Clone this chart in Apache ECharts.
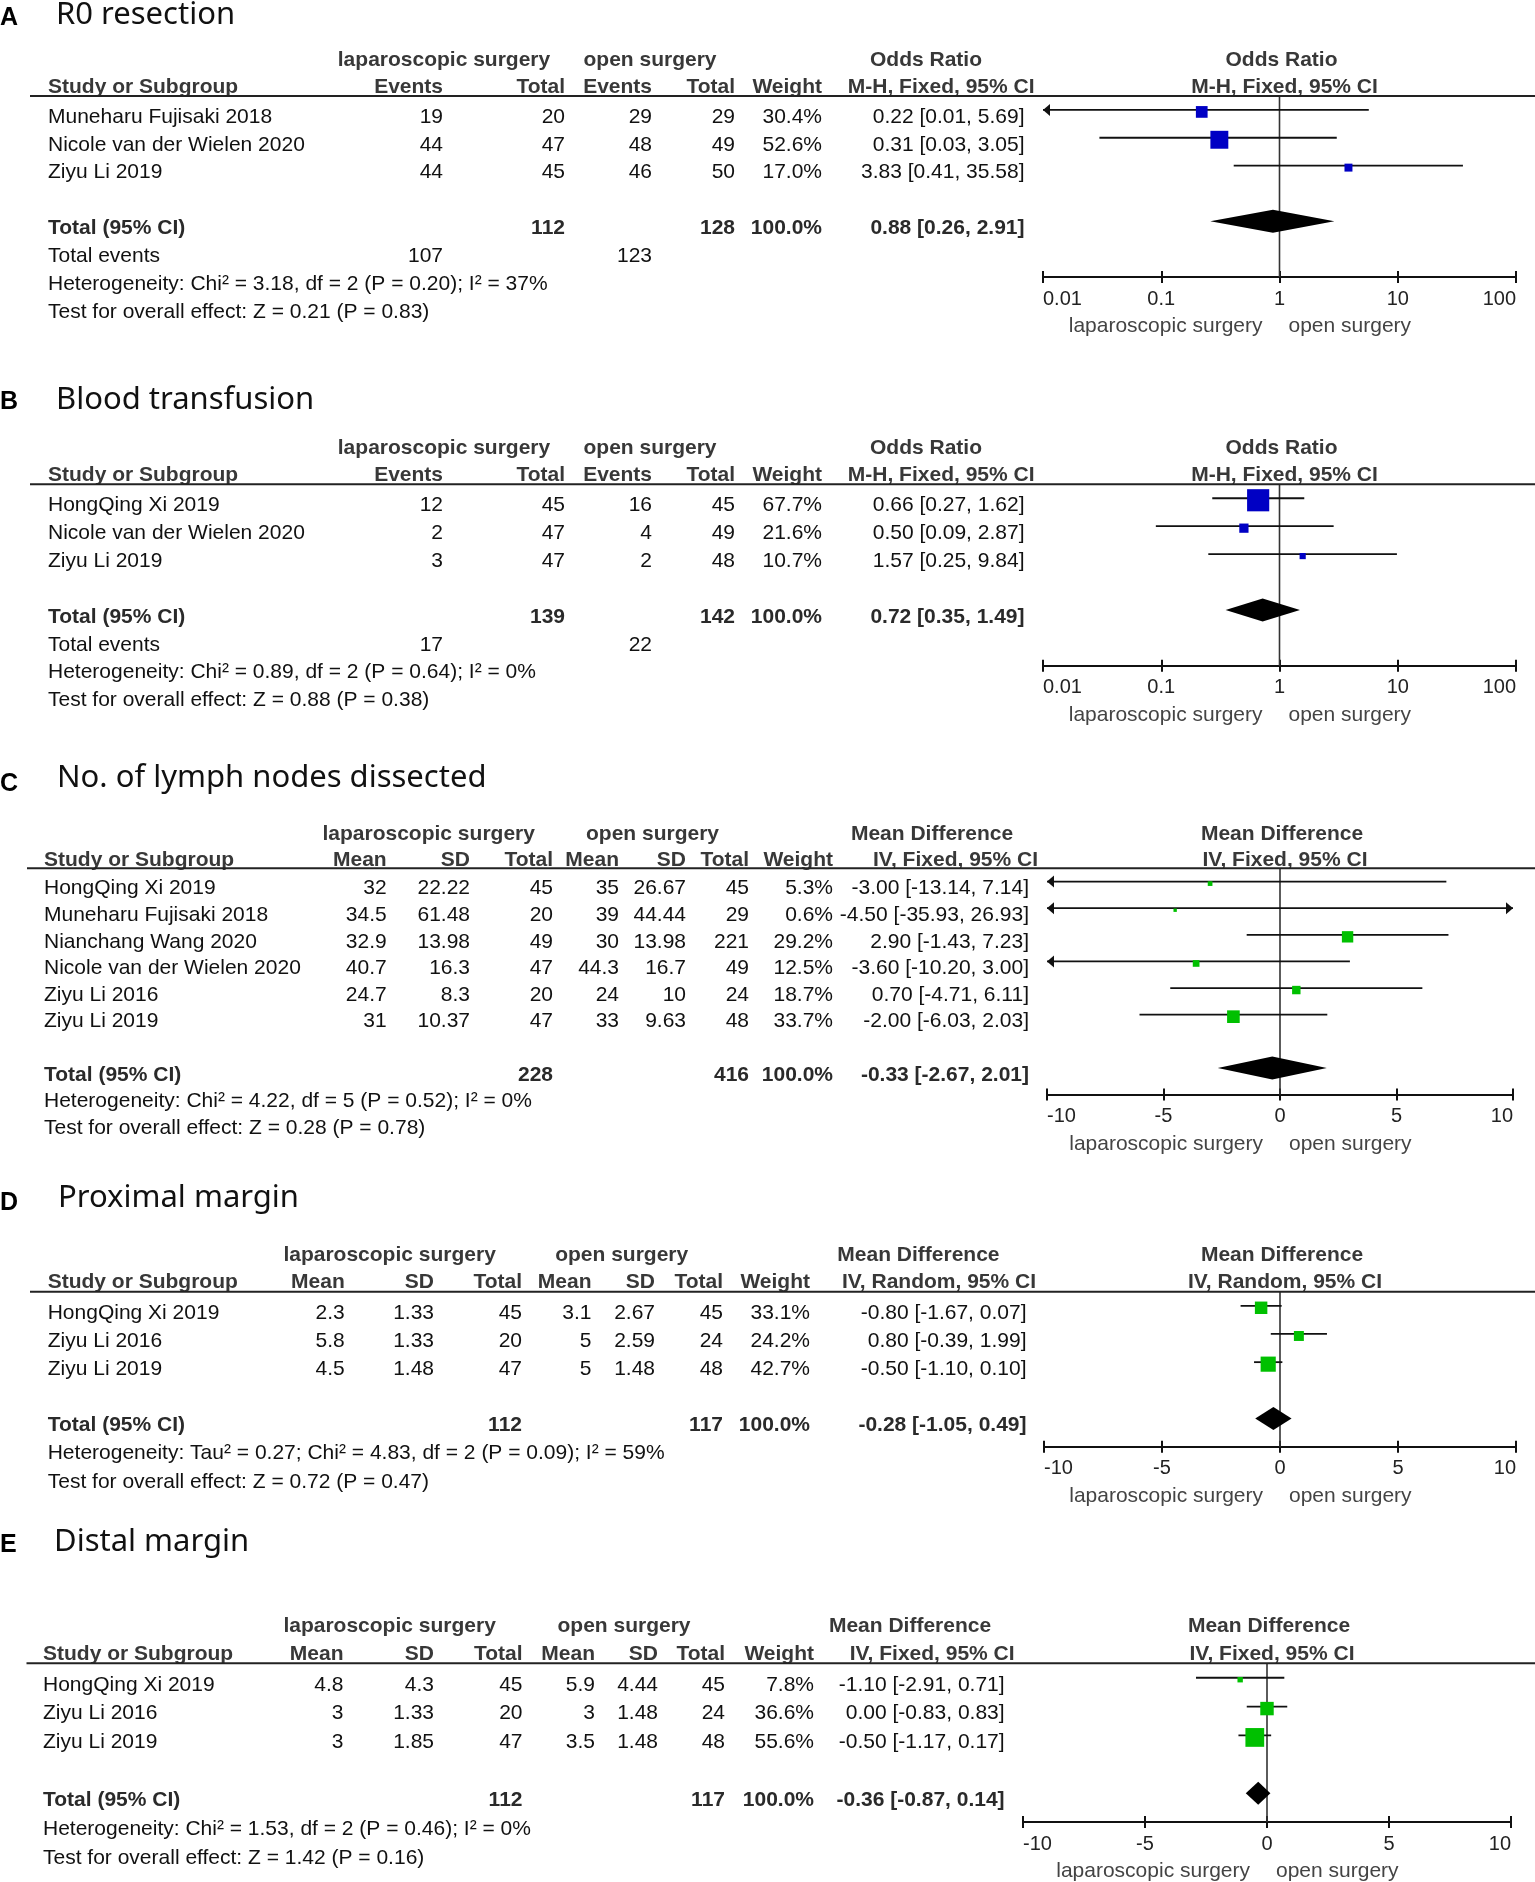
<!DOCTYPE html>
<html>
<head>
<meta charset="utf-8">
<script src="https://cdn.jsdelivr.net/npm/echarts@6/dist/echarts.min.js"></script>
<style>
html,body{margin:0;padding:0;background:#fff;}
#c{width:1535px;height:1882px;}
</style>
</head>
<body>
<div id="c"></div>
<script>
// ================= DATA =================
// Axis tick labels
const orTicks = [0.01, 0.1, 1, 10, 100];
const mdTicks = [-10, -5, 0, 5, 10];

// ---- A: R0 resection (Odds Ratio) ----
const aStudies = ['Muneharu Fujisaki 2018', 'Nicole van der Wielen 2020', 'Ziyu Li 2019'];
const aLapEvents = [19, 44, 44];
const aLapTotal = [20, 47, 45];
const aOpenEvents = [29, 48, 46];
const aOpenTotal = [29, 49, 50];
const aWeight = [30.4, 52.6, 17.0];
const aOR = [0.22, 0.31, 3.83];
const aLow = [0.01, 0.03, 0.41];
const aHigh = [5.69, 3.05, 35.58];
const aPooled = [0.88, 0.26, 2.91];
const aTotals = [112, 128];
const aTotalEvents = [107, 123];
const aHet = 'Heterogeneity: Chi² = 3.18, df = 2 (P = 0.20); I² = 37%';
const aTest = 'Test for overall effect: Z = 0.21 (P = 0.83)';

// ---- B: Blood transfusion (Odds Ratio) ----
const bStudies = ['HongQing Xi 2019', 'Nicole van der Wielen 2020', 'Ziyu Li 2019'];
const bLapEvents = [12, 2, 3];
const bLapTotal = [45, 47, 47];
const bOpenEvents = [16, 4, 2];
const bOpenTotal = [45, 49, 48];
const bWeight = [67.7, 21.6, 10.7];
const bOR = [0.66, 0.50, 1.57];
const bLow = [0.27, 0.09, 0.25];
const bHigh = [1.62, 2.87, 9.84];
const bPooled = [0.72, 0.35, 1.49];
const bTotals = [139, 142];
const bTotalEvents = [17, 22];
const bHet = 'Heterogeneity: Chi² = 0.89, df = 2 (P = 0.64); I² = 0%';
const bTest = 'Test for overall effect: Z = 0.88 (P = 0.38)';

// ---- C: No. of lymph nodes dissected (Mean Difference) ----
const cStudies = ['HongQing Xi 2019', 'Muneharu Fujisaki 2018', 'Nianchang Wang 2020', 'Nicole van der Wielen 2020', 'Ziyu Li 2016', 'Ziyu Li 2019'];
const cLapMean = [32, 34.5, 32.9, 40.7, 24.7, 31];
const cLapSD = [22.22, 61.48, 13.98, 16.3, 8.3, 10.37];
const cLapTotal = [45, 20, 49, 47, 20, 47];
const cOpenMean = [35, 39, 30, 44.3, 24, 33];
const cOpenSD = [26.67, 44.44, 13.98, 16.7, 10, 9.63];
const cOpenTotal = [45, 29, 221, 49, 24, 48];
const cWeight = [5.3, 0.6, 29.2, 12.5, 18.7, 33.7];
const cMD = [-3.00, -4.50, 2.90, -3.60, 0.70, -2.00];
const cLow = [-13.14, -35.93, -1.43, -10.20, -4.71, -6.03];
const cHigh = [7.14, 26.93, 7.23, 3.00, 6.11, 2.03];
const cPooled = [-0.33, -2.67, 2.01];
const cTotals = [228, 416];
const cHet = 'Heterogeneity: Chi² = 4.22, df = 5 (P = 0.52); I² = 0%';
const cTest = 'Test for overall effect: Z = 0.28 (P = 0.78)';

// ---- D: Proximal margin (Mean Difference, random) ----
const dStudies = ['HongQing Xi 2019', 'Ziyu Li 2016', 'Ziyu Li 2019'];
const dLapMean = [2.3, 5.8, 4.5];
const dLapSD = [1.33, 1.33, 1.48];
const dLapTotal = [45, 20, 47];
const dOpenMean = [3.1, 5, 5];
const dOpenSD = [2.67, 2.59, 1.48];
const dOpenTotal = [45, 24, 48];
const dWeight = [33.1, 24.2, 42.7];
const dMD = [-0.80, 0.80, -0.50];
const dLow = [-1.67, -0.39, -1.10];
const dHigh = [0.07, 1.99, 0.10];
const dPooled = [-0.28, -1.05, 0.49];
const dTotals = [112, 117];
const dHet = 'Heterogeneity: Tau² = 0.27; Chi² = 4.83, df = 2 (P = 0.09); I² = 59%';
const dTest = 'Test for overall effect: Z = 0.72 (P = 0.47)';

// ---- E: Distal margin (Mean Difference) ----
const eStudies = ['HongQing Xi 2019', 'Ziyu Li 2016', 'Ziyu Li 2019'];
const eLapMean = [4.8, 3, 3];
const eLapSD = [4.3, 1.33, 1.85];
const eLapTotal = [45, 20, 47];
const eOpenMean = [5.9, 3, 3.5];
const eOpenSD = [4.44, 1.48, 1.48];
const eOpenTotal = [45, 24, 48];
const eWeight = [7.8, 36.6, 55.6];
const eMD = [-1.10, 0.00, -0.50];
const eLow = [-2.91, -0.83, -1.17];
const eHigh = [0.71, 0.83, 0.17];
const ePooled = [-0.36, -0.87, 0.14];
const eTotals = [112, 117];
const eHet = 'Heterogeneity: Chi² = 1.53, df = 2 (P = 0.46); I² = 0%';
const eTest = 'Test for overall effect: Z = 1.42 (P = 0.16)';

// ================= PANEL DEFINITIONS =================
const PANELS = [
  {letter:'A', title:'R0 resection', kind:'OR', measure:'Odds Ratio', method:'M-H, Fixed, 95% CI',
   studies:aStudies, cols:[aLapEvents, aLapTotal, aOpenEvents, aOpenTotal], weight:aWeight,
   est:aOR, low:aLow, high:aHigh, pooled:aPooled, totals:aTotals, totalEvents:aTotalEvents,
   het:aHet, test:aTest, ticks:orTicks, nullVal:1, color:'#0000c4'},
  {letter:'B', title:'Blood transfusion', kind:'OR', measure:'Odds Ratio', method:'M-H, Fixed, 95% CI',
   studies:bStudies, cols:[bLapEvents, bLapTotal, bOpenEvents, bOpenTotal], weight:bWeight,
   est:bOR, low:bLow, high:bHigh, pooled:bPooled, totals:bTotals, totalEvents:bTotalEvents,
   het:bHet, test:bTest, ticks:orTicks, nullVal:1, color:'#0000c4'},
  {letter:'C', title:'No. of lymph nodes dissected', kind:'MD', measure:'Mean Difference', method:'IV, Fixed, 95% CI',
   studies:cStudies, cols:[cLapMean, cLapSD, cLapTotal, cOpenMean, cOpenSD, cOpenTotal], weight:cWeight,
   est:cMD, low:cLow, high:cHigh, pooled:cPooled, totals:cTotals, totalEvents:null,
   het:cHet, test:cTest, ticks:mdTicks, nullVal:0, color:'#00c000'},
  {letter:'D', title:'Proximal margin', kind:'MD', measure:'Mean Difference', method:'IV, Random, 95% CI',
   studies:dStudies, cols:[dLapMean, dLapSD, dLapTotal, dOpenMean, dOpenSD, dOpenTotal], weight:dWeight,
   est:dMD, low:dLow, high:dHigh, pooled:dPooled, totals:dTotals, totalEvents:null,
   het:dHet, test:dTest, ticks:mdTicks, nullVal:0, color:'#00c000'},
  {letter:'E', title:'Distal margin', kind:'MD', measure:'Mean Difference', method:'IV, Fixed, 95% CI',
   studies:eStudies, cols:[eLapMean, eLapSD, eLapTotal, eOpenMean, eOpenSD, eOpenTotal], weight:eWeight,
   est:eMD, low:eLow, high:eHigh, pooled:ePooled, totals:eTotals, totalEvents:null,
   het:eHet, test:eTest, ticks:mdTicks, nullVal:0, color:'#00c000'}
];

// ================= LAYOUT (pixels) =================
const LAYOUT = [
  {headerY:96, axisY:277, plotL:1043, plotR:1516, ruleL:30, titleX:56, titleY:15, letterY:18,
   cols:[48, 443, 565, 652, 735, 822, 1024.5], ciHeadR:1034.5, groups:[444, 650, 926]},
  {headerY:484.3, axisY:665.7, plotL:1043, plotR:1516, ruleL:30, titleX:56, titleY:400, letterY:402,
   cols:[48, 443, 565, 652, 735, 822, 1024.5], ciHeadR:1034.5, groups:[444, 650, 926]},
  {headerY:868.3, axisY:1094.5, plotL:1047, plotR:1513, ruleL:27, titleX:57, titleY:778, letterY:784,
   cols:[44, 386.7, 470, 553, 619, 686, 749, 833, 1029], ciHeadR:1038, groups:[428.7, 652.5, 932]},
  {headerY:1291.7, axisY:1446.7, plotL:1044, plotR:1516, ruleL:30, titleX:58, titleY:1198, letterY:1203,
   cols:[47.7, 344.8, 434, 522, 591.5, 655, 723, 810, 1026.5], ciHeadR:1036, groups:[389.6, 621.7, 918.4]},
  {headerY:1663.3, axisY:1822, plotL:1023, plotR:1511, ruleL:26.5, titleX:54, titleY:1542, letterY:1545,
   cols:[43, 343.5, 434, 522.5, 595, 658, 725, 814, 1004.6], ciHeadR:1014.6, groups:[389.6, 624, 910]}
];

const FONT = '"Liberation Sans", Arial, Helvetica, sans-serif';
const TXT = {
  body:  {font:'21px ' + FONT, fill:'#111'},
  head:  {font:'bold 21px ' + FONT, fill:'#383838'},
  total: {font:'bold 21px ' + FONT, fill:'#2a2a2a'},
  foot:  {font:'21px ' + FONT, fill:'#444'}
};

const f2 = v => v.toFixed(2);
const ciText = (e, l, h) => f2(e) + ' [' + f2(l) + ', ' + f2(h) + ']';
const pct = w => w.toFixed(1) + '%';

function rowInfo(P) {
  const n = P.studies.length;
  const totalRow = n + 2;
  const isOR = P.kind === 'OR';
  const hetRow = isOR ? n + 4 : n + 3;
  return {n, totalRow, eventsRow: n + 3, hetRow, testRow: hetRow + 1, axisRow: isOR ? n + 4 : n + 3};
}

function buildTable(P, L) {
  const R = rowInfo(P);
  const c = L.cols;
  const isOR = P.kind === 'OR';
  const items = [];
  const add = (row, x, text, align, st, dy) => items.push({row, x, text:String(text), align, st, dy});
  // group header row
  add(-1, L.groups[0], 'laparoscopic surgery', 'center', 'head', 6);
  add(-1, L.groups[1], 'open surgery', 'center', 'head', 6);
  add(-1, L.groups[2], P.measure, 'center', 'head', 6);
  items.push({row:-1, rel:2, text:P.measure, align:'center', st:'head', dy:6});
  // column header row
  const heads = isOR ? ['Events', 'Total', 'Events', 'Total'] : ['Mean', 'SD', 'Total', 'Mean', 'SD', 'Total'];
  add(0, c[0], 'Study or Subgroup', 'left', 'head', 5);
  heads.forEach((h, k) => add(0, c[k + 1], h, 'right', 'head', 5));
  add(0, c[heads.length + 1], 'Weight', 'right', 'head', 5);
  add(0, L.ciHeadR, P.method, 'right', 'head', 5);
  items.push({row:0, rel:5, text:P.method, align:'center', st:'head', dy:5});
  // rule under the header
  items.push({row:0.5, kind:'rule'});
  // study rows
  const wc = P.cols.length + 1;
  P.studies.forEach((s, i) => {
    const r = i + 1;
    add(r, c[0], s, 'left', 'body');
    P.cols.forEach((arr, k) => add(r, c[k + 1], arr[i], 'right', 'body'));
    add(r, c[wc], pct(P.weight[i]), 'right', 'body');
    add(r, c[wc + 1], ciText(P.est[i], P.low[i], P.high[i]), 'right', 'body');
  });
  // total row
  const tc = isOR ? [2, 4] : [3, 6];
  add(R.totalRow, c[0], 'Total (95% CI)', 'left', 'total');
  add(R.totalRow, c[tc[0]], P.totals[0], 'right', 'total');
  add(R.totalRow, c[tc[1]], P.totals[1], 'right', 'total');
  add(R.totalRow, c[wc], pct(100), 'right', 'total');
  add(R.totalRow, c[wc + 1], ciText(P.pooled[0], P.pooled[1], P.pooled[2]), 'right', 'total');
  if (P.totalEvents) {
    add(R.eventsRow, c[0], 'Total events', 'left', 'body');
    add(R.eventsRow, c[1], P.totalEvents[0], 'right', 'body');
    add(R.eventsRow, c[3], P.totalEvents[1], 'right', 'body');
  }
  add(R.hetRow, c[0], P.het, 'left', 'body');
  add(R.testRow, c[0], P.test, 'left', 'body');
  // favour labels under the axis
  items.push({row:R.axisRow, rel:-17, dy:49.5, text:'laparoscopic surgery', align:'right', st:'foot'});
  items.push({row:R.axisRow, rel:9, dy:49.5, text:'open surgery', align:'left', st:'foot'});
  return items;
}

function tickFmt(ticks, v) {
  for (const t of ticks) {
    if (t > 0 && v > 0) { if (Math.abs(Math.log10(t) - Math.log10(v)) < 1e-6) return String(t); }
    else if (Math.abs(t - v) < 1e-9) return String(t);
  }
  return '';
}

const grids = [], xAxes = [], yAxes = [], series = [], graphics = [];

PANELS.forEach((P, p) => {
  const L = LAYOUT[p];
  const R = rowInfo(P);
  const isOR = P.kind === 'OR';
  const xmin = P.ticks[0], xmax = P.ticks[P.ticks.length - 1];

  grids.push({left:L.plotL, top:L.headerY, width:L.plotR - L.plotL, height:L.axisY - L.headerY, containLabel:false});

  const base = {gridIndex:p, position:'bottom', min:xmin, max:xmax, splitLine:{show:false}};
  if (isOR) { base.type = 'log'; base.logBase = 10; } else { base.type = 'value'; base.interval = 5; }
  xAxes.push(Object.assign({}, base, {
    axisLine:{show:true, onZero:false, lineStyle:{color:'#111', width:2}},
    axisTick:{show:true, inside:false, length:6, lineStyle:{color:'#111', width:2}},
    axisLabel:{show:true, margin:12, color:'#222', fontSize:20, fontFamily:FONT,
      alignMinLabel:'left', alignMaxLabel:'right', showMinLabel:true, showMaxLabel:true,
      formatter:(v) => tickFmt(P.ticks, v)}
  }));
  xAxes.push(Object.assign({}, base, {
    axisLine:{show:false, onZero:false},
    axisTick:{show:true, inside:true, length:6, lineStyle:{color:'#111', width:2}},
    axisLabel:{show:false}
  }));
  yAxes.push({gridIndex:p, type:'value', min:0.5, max:R.axisRow, inverse:true, show:false});

  const xi = 2 * p;

  // vertical line of no effect
  series.push({
    type:'custom', xAxisIndex:xi, yAxisIndex:p, clip:false, silent:true,
    data:[[P.nullVal, 0.5]],
    renderItem:(params, api) => {
      const a = api.coord([P.nullVal, 0.5]);
      const b = api.coord([P.nullVal, R.axisRow]);
      return {type:'line', shape:{x1:a[0], y1:a[1], x2:b[0], y2:b[1]}, style:{stroke:'#333', lineWidth:1.6}};
    }
  });

  // study confidence intervals + weighted squares
  series.push({
    type:'custom', xAxisIndex:xi, yAxisIndex:p, clip:false, silent:true,
    data:P.studies.map((s, i) => [P.est[i], i + 1, P.low[i], P.high[i], P.weight[i]]),
    renderItem:(params, api) => {
      const est = api.value(0), row = api.value(1), lo = api.value(2), hi = api.value(3), w = api.value(4);
      const p1 = api.coord([Math.max(lo, xmin), row]);
      const p2 = api.coord([Math.min(hi, xmax), row]);
      const pc = api.coord([est, row]);
      const ch = [{type:'line', shape:{x1:p1[0], y1:p1[1], x2:p2[0], y2:p2[1]}, style:{stroke:'#111', lineWidth:1.8}}];
      if (lo <= xmin + 1e-12) ch.push({type:'polygon', shape:{points:[[p1[0], p1[1]], [p1[0] + 7, p1[1] - 6], [p1[0] + 7, p1[1] + 6]]}, style:{fill:'#111'}});
      if (hi >= xmax - 1e-12) ch.push({type:'polygon', shape:{points:[[p2[0], p2[1]], [p2[0] - 7, p2[1] - 6], [p2[0] - 7, p2[1] + 6]]}, style:{fill:'#111'}});
      const s = 3.2 + 0.28 * w;
      ch.push({type:'rect', shape:{x:pc[0] - s / 2, y:pc[1] - s / 2 + 2, width:s, height:s}, style:{fill:P.color}});
      return {type:'group', children:ch};
    }
  });

  // pooled diamond
  series.push({
    type:'custom', xAxisIndex:xi, yAxisIndex:p, clip:false, silent:true,
    data:[[P.pooled[0], R.totalRow, P.pooled[1], P.pooled[2]]],
    renderItem:(params, api) => {
      const row = api.value(1);
      const c0 = api.coord([api.value(0), row]);
      const cl = api.coord([api.value(2), row]);
      const chh = api.coord([api.value(3), row]);
      const h = 11.5;
      return {type:'polygon', shape:{points:[[cl[0], c0[1]], [c0[0], c0[1] - h], [chh[0], c0[1]], [c0[0], c0[1] + h]]}, style:{fill:'#000'}};
    }
  });

  // table text
  const items = buildTable(P, L);
  series.push({
    type:'custom', xAxisIndex:xi, yAxisIndex:p, clip:false, silent:true,
    data:items.map(it => [P.nullVal, it.row]),
    renderItem:(params, api) => {
      const it = items[params.dataIndex];
      const pt = api.coord([P.nullVal, it.row]);
      if (it.kind === 'rule') {
        return {type:'line', shape:{x1:L.ruleL, y1:pt[1], x2:1535, y2:pt[1]}, style:{stroke:'#222', lineWidth:2}};
      }
      const x = it.rel != null ? pt[0] + it.rel : it.x;
      const y = pt[1] + (it.dy != null ? it.dy : 7);
      const st = TXT[it.st];
      return {type:'text', x:x, y:y, style:{text:it.text, font:st.font, fill:st.fill, align:it.align, verticalAlign:'middle'}};
    }
  });

  // panel letter and title
  graphics.push({type:'text', x:0, y:L.letterY, silent:true,
    style:{text:P.letter, font:'bold 25px ' + FONT, fill:'#000', align:'left', verticalAlign:'middle'}});
  graphics.push({type:'text', x:L.titleX, y:L.titleY, silent:true,
    style:{text:P.title, font:'31px "Noto Sans", "Open Sans", sans-serif', fill:'#111', align:'left', verticalAlign:'middle'}});
});

const chart = echarts.init(document.getElementById('c'), null, {renderer:'canvas', width:1535, height:1882});
chart.setOption({
  animation:false,
  backgroundColor:'#ffffff',
  grid:grids,
  xAxis:xAxes,
  yAxis:yAxes,
  series:series,
  graphic:graphics
});
</script>
</body>
</html>
